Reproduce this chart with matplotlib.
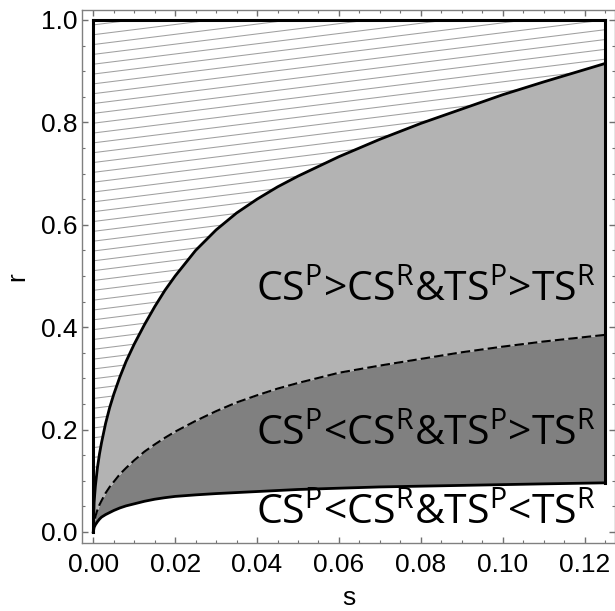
import numpy as np
import matplotlib
matplotlib.use('Agg')
import matplotlib.pyplot as plt
from matplotlib.ticker import MultipleLocator, FormatStrFormatter
from matplotlib.collections import LineCollection

# boundary curves
s_vals = [0, 0.0002, 0.0005, 0.001, 0.0015, 0.002, 0.003, 0.004, 0.005, 0.0065,
          0.008, 0.01, 0.0125, 0.015, 0.0175, 0.02, 0.025, 0.03, 0.035, 0.04,
          0.045, 0.05, 0.06, 0.07, 0.08, 0.09, 0.1, 0.11, 0.125]
r_upper = [0, 0.058, 0.089, 0.125, 0.152, 0.174, 0.212, 0.243, 0.269, 0.303,
           0.333, 0.367, 0.405, 0.44, 0.472, 0.50, 0.55, 0.59, 0.623, 0.65,
           0.674, 0.695, 0.733, 0.767, 0.798, 0.826, 0.854, 0.879, 0.915]
r_mid = [0, 0.019, 0.030, 0.043, 0.053, 0.061, 0.076, 0.088, 0.098, 0.113,
         0.125, 0.140, 0.157, 0.171, 0.184, 0.196, 0.217, 0.236, 0.253, 0.267,
         0.280, 0.291, 0.311, 0.325, 0.338, 0.351, 0.362, 0.372, 0.385]
r_low = [0, 0.009, 0.014, 0.020, 0.025, 0.029, 0.034, 0.038, 0.042, 0.047,
         0.051, 0.055, 0.060, 0.064, 0.067, 0.0695, 0.0725, 0.075, 0.077, 0.079,
         0.081, 0.083, 0.0855, 0.088, 0.0895, 0.091, 0.0925, 0.094, 0.096]
r_max = 1.0

region_labels = ['CS$^\\mathrm{P}$>CS$^\\mathrm{R}$&TS$^\\mathrm{P}$>TS$^\\mathrm{R}$',
                 'CS$^\\mathrm{P}$<CS$^\\mathrm{R}$&TS$^\\mathrm{P}$>TS$^\\mathrm{R}$',
                 'CS$^\\mathrm{P}$<CS$^\\mathrm{R}$&TS$^\\mathrm{P}$<TS$^\\mathrm{R}$']
label_r = [0.451, 0.17, 0.0155]
label_s = 0.1227

plt.rcParams['font.family'] = 'Liberation Sans'
plt.rcParams['mathtext.fontset'] = 'custom'
plt.rcParams['mathtext.rm'] = 'Open Sans'

s = np.array(s_vals)

fig = plt.figure(figsize=(6.15, 6.11), dpi=100)
ax = fig.add_axes([82 / 615, 68 / 611, 533 / 615, 533 / 611])

# filled regions
ax.fill_between(s, r_low, r_mid, color='#808080', lw=0)
ax.fill_between(s, r_mid, r_upper, color='#b3b3b3', lw=0)
top = ax.fill_between(s, r_upper, r_max, color='white', lw=0)

# hatch lines in the top region (slope 1 in data units)
step = 0.0192
segs = [[(s[0], c), (s[-1], c + s[-1])] for c in np.arange(-0.2, 1.05, step)]
hatch = LineCollection(segs, colors='#a0a0a0', linewidths=0.75)
ax.add_collection(hatch)
hatch.set_clip_path(top.get_paths()[0], ax.transData)

# boundaries
ax.plot(s, r_upper, color='black', lw=2)
ax.plot(s, r_mid, color='black', lw=1.5, ls=(0, (4.5, 2)))
ax.plot(s, r_low, color='black', lw=2)
ax.plot([s[0], s[0]], [0, r_max], color='black', lw=2.2)
ax.plot([s[0], s[-1]], [r_max, r_max], color='black', lw=2.2)
ax.plot([s[-1], s[-1]], [r_low[-1], r_max], color='black', lw=2.2)

for lab, r in zip(region_labels, label_r):
    ax.text(label_s, r, lab, ha='right', va='baseline', fontsize=29.5, family='Open Sans')

ax.set_xlim(-0.00276, 0.12744)
ax.set_ylim(-0.0215, 1.0195)

ax.xaxis.set_major_locator(MultipleLocator(0.02))
ax.xaxis.set_minor_locator(MultipleLocator(0.005))
ax.yaxis.set_major_locator(MultipleLocator(0.2))
ax.yaxis.set_minor_locator(MultipleLocator(0.05))
ax.xaxis.set_major_formatter(FormatStrFormatter('%.2f'))
ax.yaxis.set_major_formatter(FormatStrFormatter('%.1f'))

ax.tick_params(which='both', direction='in', top=True, right=True, colors='#707070',
               labelcolor='black', labelsize=19)
ax.tick_params(which='major', length=4, width=1)
ax.tick_params(which='minor', length=2.5, width=0.8)
ax.tick_params(axis='x', pad=7.5)
ax.tick_params(axis='y', pad=3.5)
for sp in ax.spines.values():
    sp.set_color('#808080')
    sp.set_linewidth(1)

ax.set_xlabel('s', fontsize=19, labelpad=6)
ax.set_ylabel('r', fontsize=19, labelpad=8)

fig.savefig('out.png', dpi=100)
